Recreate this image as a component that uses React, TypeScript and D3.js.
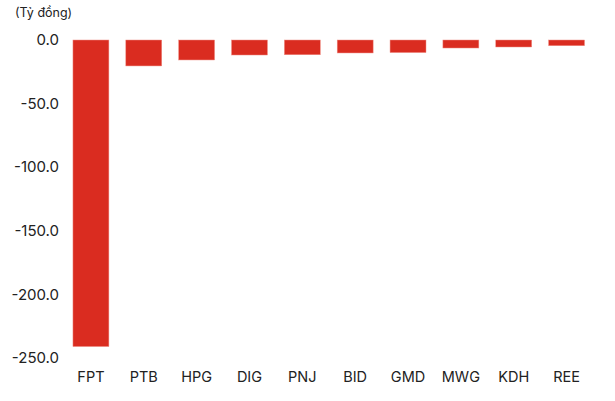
import { scaleBand, scaleLinear } from "d3";

const WIDTH = 615;
const HEIGHT = 401;

const TICKERS = ["FPT", "PTB", "HPG", "DIG", "PNJ", "BID", "GMD", "MWG", "KDH", "REE"];
const VALUES = [-241.0, -20.4, -15.7, -11.8, -11.6, -10.2, -9.9, -6.3, -5.5, -4.5];
const Y_TICKS = [0, -50, -100, -150, -200, -250];
const UNIT_LABEL = "(Tỷ đồng)";

const BAR_COLOR = "#da2c20";
const TEXT_COLOR = "#222";
const FONT = "Inter, Roboto, sans-serif";

export default function App() {
  const x = scaleBand<string>()
    .domain(TICKERS)
    .range([64.5, 593])
    .paddingInner(0.32)
    .paddingOuter(0.16);

  const y = scaleLinear().domain([-250, 0]).range([358, 40]);

  return (
    <svg
      width={WIDTH}
      height={HEIGHT}
      style={{ position: "absolute", left: 0, top: 0, background: "#fff" }}
      fontFamily={FONT}
    >
      <text x={15} y={17} fontSize={12.5} fill={TEXT_COLOR}>
        {UNIT_LABEL}
      </text>

      {/* y axis labels */}
      {Y_TICKS.map(t => (
        <text
          key={t}
          x={59}
          y={y(t)}
          dy="0.35em"
          textAnchor="end"
          fontSize={15}
          fill={TEXT_COLOR}
        >
          {t.toFixed(1)}
        </text>
      ))}

      {/* bars */}
      {TICKERS.map((name, i) => {
        const v = VALUES[i];
        return (
          <rect
            key={name}
            x={x(name)}
            y={y(0)}
            width={x.bandwidth()}
            height={y(v) - y(0)}
            fill={BAR_COLOR}
            stroke="#ef8f86"
            strokeWidth={0.5}
          />
        );
      })}

      {/* x labels */}
      {TICKERS.map(name => (
        <text
          key={name}
          x={(x(name) ?? 0) + x.bandwidth() / 2}
          y={382}
          textAnchor="middle"
          fontSize={14.5}
          fill={TEXT_COLOR}
        >
          {name}
        </text>
      ))}
    </svg>
  );
}
